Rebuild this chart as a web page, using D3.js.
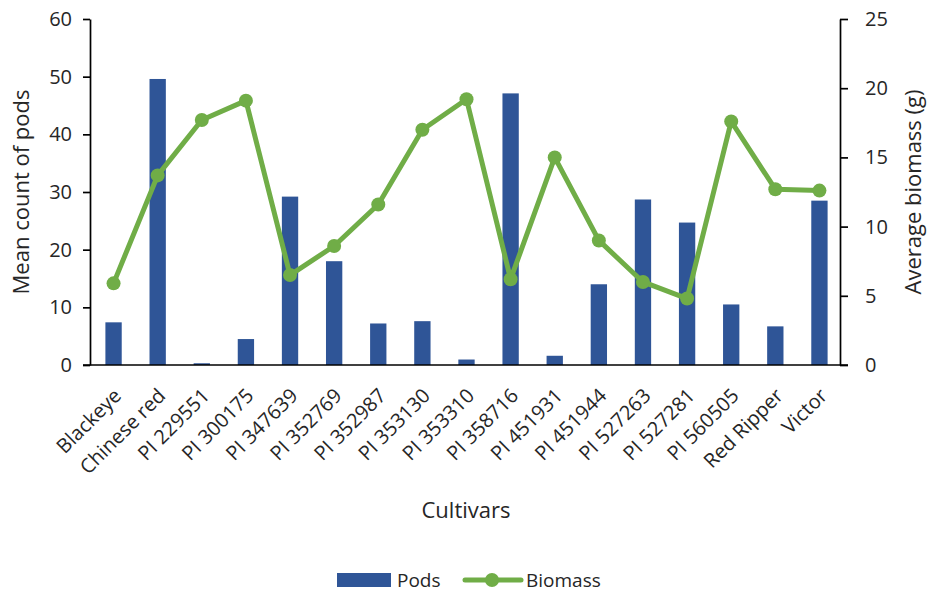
<!DOCTYPE html>
<html>
<head>
<meta charset="utf-8">
<script src="https://cdn.jsdelivr.net/npm/d3@7"></script>
<style>
  html, body { margin: 0; padding: 0; background: #fff; }
  svg { display: block; }
  text { font-family: "Open Sans", "Noto Sans", sans-serif; fill: #262626; }
</style>
</head>
<body>
<svg id="chart" width="928" height="594"></svg>
<script>
// Cultivars along the x axis
const cultivars = ["Blackeye", "Chinese red", "PI 229551", "PI 300175", "PI 347639",
  "PI 352769", "PI 352987", "PI 353130", "PI 353310", "PI 358716", "PI 451931",
  "PI 451944", "PI 527263", "PI 527281", "PI 560505", "Red Ripper", "Victor"];

// Mean count of pods (bars, left axis)
const pods = [7.4, 49.6, 0.3, 4.5, 29.2, 18.0, 7.2, 7.6, 0.95, 47.1, 1.6, 14.0,
  28.7, 24.7, 10.5, 6.7, 28.5];

// Average biomass in grams (line, right axis)
const biomass = [5.9, 13.7, 17.7, 19.1, 6.5, 8.6, 11.6, 17.0, 19.2, 6.2, 15.0, 9.0,
  6.0, 4.8, 17.6, 12.7, 12.6];

const podTicks = [0, 10, 20, 30, 40, 50, 60];
const biomassTicks = [0, 5, 10, 15, 20, 25];

const barColor = "#2F5597";
const lineColor = "#70AD47";

const svg = d3.select("#chart");
const x0 = 90, x1 = 840, y0 = 365, y1 = 19;

const x = d3.scaleBand().domain(cultivars).range([x0 + 1.5, x1 + 1.5])
  .paddingInner(0.63).paddingOuter(0.315);
const yL = d3.scaleLinear().domain([0, 60]).range([y0, y1]);
const yR = d3.scaleLinear().domain([0, 25]).range([y0, y1]);

// bars
svg.append("g").selectAll("rect").data(cultivars).join("rect")
  .attr("x", d => x(d))
  .attr("width", x.bandwidth())
  .attr("y", (d, i) => yL(pods[i]))
  .attr("height", (d, i) => y0 - yL(pods[i]))
  .attr("fill", barColor);

// biomass line with markers
const cx = d => x(d) + x.bandwidth() / 2;
svg.append("path")
  .datum(cultivars)
  .attr("fill", "none")
  .attr("stroke", lineColor)
  .attr("stroke-width", 5)
  .attr("stroke-linejoin", "round")
  .attr("d", d3.line().x(d => cx(d)).y((d, i) => yR(biomass[i])));
svg.append("g").selectAll("circle").data(cultivars).join("circle")
  .attr("cx", d => cx(d))
  .attr("cy", (d, i) => yR(biomass[i]))
  .attr("r", 7)
  .attr("fill", lineColor);

// axes
const styleAxis = g => {
  g.select(".domain").attr("stroke", "#000").attr("stroke-width", 1.7);
  g.selectAll(".tick line").attr("stroke", "#000").attr("stroke-width", 1.7);
  g.selectAll(".tick text").attr("font-size", 20).attr("fill", "#262626")
    .attr("font-family", "Open Sans");
};

svg.append("g").attr("transform", `translate(${x0},0)`)
  .call(d3.axisLeft(yL).tickValues(podTicks).tickSize(7).tickSizeOuter(0).tickPadding(11))
  .call(styleAxis);

svg.append("g").attr("transform", `translate(${x1},0)`)
  .call(d3.axisRight(yR).tickValues(biomassTicks).tickSize(8).tickSizeOuter(0).tickPadding(17))
  .call(styleAxis);

svg.append("g").attr("transform", `translate(0,${y0})`)
  .call(d3.axisBottom(x).tickSize(0).tickSizeOuter(0).tickPadding(0))
  .call(styleAxis)
  .call(g => g.select(".domain").attr("d", `M${x0 - 7},0H${x1 + 8}`))
  .call(g => g.selectAll(".tick text")
    .attr("font-size", 20)
    .attr("text-anchor", "end")
    .attr("dy", 0)
    .attr("transform", "translate(9,32) rotate(-45)"));

// axis titles
svg.append("text")
  .attr("transform", `translate(29,${(y0 + y1) / 2}) rotate(-90)`)
  .attr("text-anchor", "middle")
  .attr("font-size", 22)
  .text("Mean count of pods");

svg.append("text")
  .attr("transform", `translate(921,${(y0 + y1) / 2}) rotate(-90)`)
  .attr("text-anchor", "middle")
  .attr("font-size", 22)
  .text("Average biomass (g)");

svg.append("text")
  .attr("x", (x0 + x1) / 2 + 1)
  .attr("y", 518)
  .attr("text-anchor", "middle")
  .attr("font-size", 22)
  .text("Cultivars");

// legend
const leg = svg.append("g");
leg.append("rect").attr("x", 337).attr("y", 573).attr("width", 54).attr("height", 14).attr("fill", barColor);
leg.append("text").attr("x", 397).attr("y", 587).attr("font-size", 19).text("Pods");
leg.append("line").attr("x1", 465).attr("x2", 521).attr("y1", 580).attr("y2", 580)
  .attr("stroke", lineColor).attr("stroke-width", 5).attr("stroke-linecap", "round");
leg.append("circle").attr("cx", 492).attr("cy", 580).attr("r", 7).attr("fill", lineColor);
leg.append("text").attr("x", 526).attr("y", 587).attr("font-size", 19).text("Biomass");
</script>
</body>
</html>
